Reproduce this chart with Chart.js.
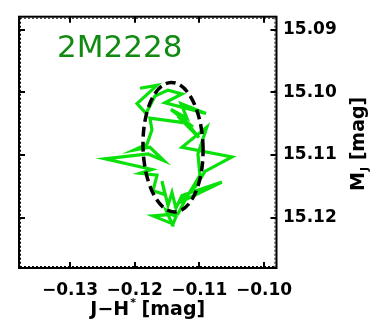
<!DOCTYPE html>
<html>
<head>
<meta charset="utf-8">
<script src="https://cdn.jsdelivr.net/npm/chart.js@4"></script>
<style>
  html, body { margin: 0; padding: 0; background: #ffffff; }
  #wrap { width: 376px; height: 331px; }
</style>
</head>
<body>
<div id="wrap"><canvas id="c" width="376" height="331"></canvas></div>
<script>
// J-H* colour and absolute J magnitude of 2M2228 over the light curve
const colourJH = [
  -0.11918, -0.11655, -0.11964, -0.11825, -0.11686, -0.11485, -0.11269, -0.11532,
  -0.10898, -0.11284, -0.11192, -0.11439, -0.11099, -0.11331, -0.11006, -0.11192,
  -0.11764, -0.11733, -0.11810, -0.12011, -0.11764, -0.11547, -0.11794, -0.12459,
  -0.11733, -0.11918, -0.11655, -0.11717, -0.11532, -0.11578, -0.11485, -0.11423,
  -0.11362, -0.11269, -0.10651, -0.11300, -0.11053, -0.10913, -0.10496, -0.11269,
  -0.10883, -0.11022, -0.10991, -0.11207, -0.11331, -0.11717, -0.11423, -0.11516,
  -0.11362, -0.11423
];
const magJ = [
  15.09934, 15.09887, 15.10180, 15.10335, 15.10057, 15.09964, 15.10026, 15.10165,
  15.10335, 15.10180, 15.10412, 15.10273, 15.10551, 15.10381, 15.10720, 15.10489,
  15.10412, 15.10597, 15.10828, 15.10921, 15.10875, 15.11091, 15.10983, 15.11060,
  15.11230, 15.11291, 15.11322, 15.11569, 15.11631, 15.11415, 15.11801, 15.11600,
  15.11847, 15.11646, 15.11430, 15.11754, 15.11492, 15.11261, 15.11029, 15.10875,
  15.10551, 15.10983, 15.11322, 15.11693, 15.11939, 15.11970, 15.12094, 15.11878,
  15.11986, 15.12140
];

const xTicks = [-0.13, -0.12, -0.11, -0.10];
const yTicks = [15.09, 15.10, 15.11, 15.12];
const xRange = [-0.13789, -0.09807];
const yRange = [15.08792, 15.12802];

// fitted variability ellipse (centre and semi-axes in data units)
const ellipseCentre = [-0.11407, 15.10874];
const ellipseRadii = [0.00464, 0.01033];

const starName = '2M2228';

const FONT = '"DejaVu Sans", sans-serif';
const points = colourJH.map((x, i) => ({ x: x, y: magJ[i] }));

const framePlugin = {
  id: 'frame',
  afterDatasetsDraw(chart) {
    const ctx = chart.ctx;
    const a = chart.chartArea;
    const xs = chart.scales.x, ys = chart.scales.y;
    ctx.save();

    // ellipse
    const cx = xs.getPixelForValue(ellipseCentre[0]);
    const cy = ys.getPixelForValue(ellipseCentre[1]);
    const rx = Math.abs(xs.getPixelForValue(ellipseCentre[0] + ellipseRadii[0]) - cx);
    const ry = Math.abs(ys.getPixelForValue(ellipseCentre[1] + ellipseRadii[1]) - cy);
    ctx.beginPath();
    ctx.ellipse(cx, cy, rx, ry, -0.03, 0, Math.PI * 2);
    ctx.setLineDash([10, 5]);
    ctx.lineWidth = 3.5;
    ctx.strokeStyle = '#000000';
    ctx.stroke();
    ctx.setLineDash([]);

    // frame
    ctx.lineWidth = 2;
    ctx.strokeStyle = '#000000';
    ctx.strokeRect(a.left, a.top, a.right - a.left, a.bottom - a.top);

    // minor tick texture along the inside of the frame
    ctx.lineWidth = 1;
    ctx.setLineDash([2, 2]);
    ctx.beginPath();
    ctx.moveTo(a.left + 1.5, a.top + 1); ctx.lineTo(a.left + 1.5, a.bottom - 1);
    ctx.moveTo(a.right - 1.5, a.top + 1); ctx.lineTo(a.right - 1.5, a.bottom - 1);
    ctx.moveTo(a.left + 1, a.top + 1.5); ctx.lineTo(a.right - 1, a.top + 1.5);
    ctx.moveTo(a.left + 1, a.bottom - 1.5); ctx.lineTo(a.right - 1, a.bottom - 1.5);
    ctx.stroke();
    ctx.setLineDash([]);

    // major ticks on all four sides
    ctx.lineWidth = 2;
    ctx.beginPath();
    yTicks.forEach(v => {
      const p = Math.round(ys.getPixelForValue(v));
      ctx.moveTo(a.left, p); ctx.lineTo(a.left + 6, p);
      ctx.moveTo(a.right, p); ctx.lineTo(a.right - 6, p);
    });
    xTicks.forEach(v => {
      const p = Math.round(xs.getPixelForValue(v));
      ctx.moveTo(p, a.bottom); ctx.lineTo(p, a.bottom - 6);
      ctx.moveTo(p, a.top); ctx.lineTo(p, a.top + 6);
    });
    ctx.stroke();

    // star name
    ctx.fillStyle = '#128a12';
    ctx.font = '31px ' + FONT;
    ctx.textAlign = 'left';
    ctx.textBaseline = 'alphabetic';
    ctx.fillText(starName, 57, 57);

    // x axis title: J-H* [mag]
    ctx.fillStyle = '#000000';
    const big = 'bold 19px ' + FONT, small = 'bold 11px ' + FONT;
    ctx.font = big; const w1 = ctx.measureText('J\u2212H').width;
    ctx.font = small; const w2 = ctx.measureText('*').width;
    ctx.font = big; const w3 = ctx.measureText(' [mag]').width;
    let x0 = (a.left + a.right) / 2 - (w1 + w2 + w3) / 2;
    const base = 315;
    ctx.font = big; ctx.fillText('J\u2212H', x0, base);
    ctx.font = small; ctx.fillText('*', x0 + w1 + 1, base - 9);
    ctx.font = big; ctx.fillText(' [mag]', x0 + w1 + w2, base);

    // y axis title: M_J [mag], reading upwards
    ctx.translate(364, (a.top + a.bottom) / 2 + 2);
    ctx.rotate(-Math.PI / 2);
    ctx.font = big; const m1 = ctx.measureText('M').width;
    ctx.font = small; const m2 = ctx.measureText('J').width;
    ctx.font = big; const m3 = ctx.measureText(' [mag]').width;
    x0 = -(m1 + m2 + m3) / 2;
    ctx.font = big; ctx.fillText('M', x0, 0);
    ctx.font = small; ctx.fillText('J', x0 + m1 + 1, 4);
    ctx.font = big; ctx.fillText(' [mag]', x0 + m1 + m2 + 1, 0);

    ctx.restore();
  }
};

new Chart(document.getElementById('c'), {
  type: 'scatter',
  data: {
    datasets: [{
      data: points,
      showLine: true,
      borderColor: 'rgb(10,225,10)',
      borderWidth: 3.2,
      pointRadius: 0,
      tension: 0,
      borderJoinStyle: 'miter'
    }]
  },
  options: {
    responsive: false,
    animation: false,
    events: [],
    layout: { padding: { left: 19, top: 8, right: 0, bottom: 0 } },
    plugins: { legend: { display: false }, tooltip: { enabled: false } },
    scales: {
      x: {
        type: 'linear',
        position: 'bottom',
        min: xRange[0], max: xRange[1],
        afterBuildTicks: s => { s.ticks = xTicks.map(v => ({ value: v })); },
        afterFit: s => { s.height = 63; },
        grid: { display: false, drawTicks: false },
        border: { display: false },
        ticks: {
          autoSkip: false, maxRotation: 0, padding: 12,
          color: '#000000',
          font: { family: FONT, size: 17, weight: 'bold' },
          callback: v => (v < 0 ? '\u2212' : '') + Math.abs(v).toFixed(2)
        }
      },
      y: {
        type: 'linear',
        position: 'right',
        reverse: true,
        min: yRange[0], max: yRange[1],
        afterBuildTicks: s => { s.ticks = yTicks.map(v => ({ value: v })); },
        afterFit: s => { s.width = 99.5; },
        grid: { display: false, drawTicks: false },
        border: { display: false },
        ticks: {
          autoSkip: false, padding: 6.5,
          color: '#000000',
          font: { family: FONT, size: 17, weight: 'bold' },
          callback: v => v.toFixed(2)
        }
      }
    }
  },
  plugins: [framePlugin]
});
</script>
</body>
</html>
